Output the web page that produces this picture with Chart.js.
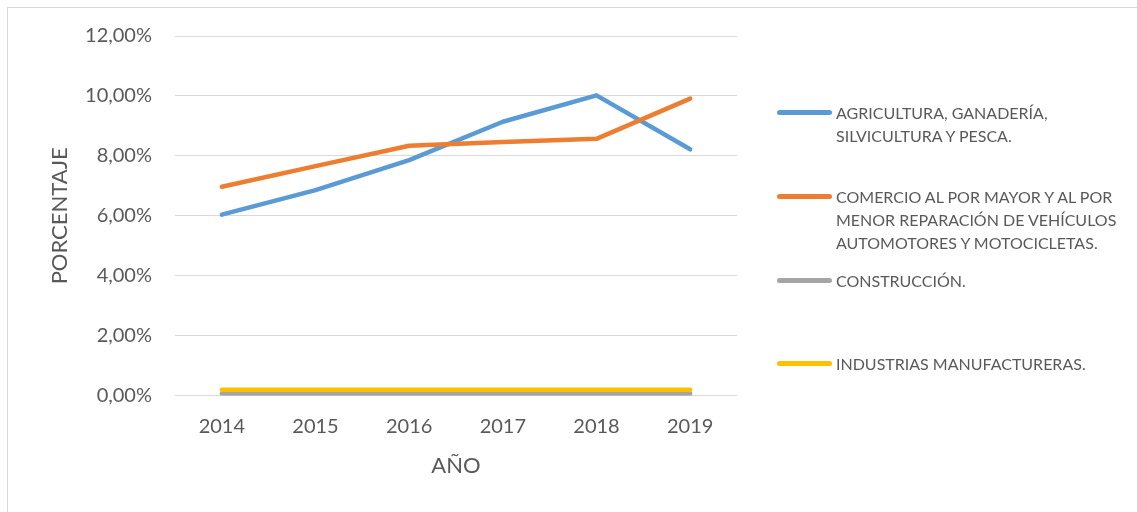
<!DOCTYPE html>
<html>
<head>
<meta charset="utf-8">
<script src="https://cdn.jsdelivr.net/npm/chart.js@4/dist/chart.umd.min.js"></script>
<style>
  html, body { margin: 0; padding: 0; background: #ffffff; }
  #wrap { position: relative; width: 1137px; height: 512px; overflow: hidden; }
  #frame { position: absolute; left: 7px; top: 7px; width: 1140px; height: 520px; border: 1px solid #d9d9d9; box-sizing: border-box; }
  canvas { position: absolute; left: 0; top: 0; }
  #legend { position: absolute; left: 0; top: 0; font-family: Lato, "Open Sans", sans-serif; font-size: 16px; color: #595959; }
  .item { position: absolute; left: 777px; }
  .mark { position: absolute; left: 0; width: 55px; height: 5px; border-radius: 3px; }
  .txt { position: absolute; left: 59px; white-space: pre; line-height: 23px; }
</style>
</head>
<body>
<div id="wrap">
  <div id="frame"></div>
  <canvas id="c" width="1137" height="512"></canvas>
  <div id="legend"></div>
</div>
<script>
const years = ['2014', '2015', '2016', '2017', '2018', '2019'];
const seriesNames = [
  'AGRICULTURA, GANADERÍA,\nSILVICULTURA Y PESCA.',
  'COMERCIO AL POR MAYOR Y AL POR\nMENOR REPARACIÓN DE VEHÍCULOS\nAUTOMOTORES Y MOTOCICLETAS.',
  'CONSTRUCCIÓN.',
  'INDUSTRIAS MANUFACTURERAS.'
];
const agricultura = [6.04, 6.86, 7.86, 9.14, 10.02, 8.22];
const comercio = [6.97, 7.66, 8.34, 8.46, 8.57, 9.91];
const construccion = [0.07, 0.07, 0.07, 0.07, 0.07, 0.07];
const industrias = [0.20, 0.20, 0.20, 0.20, 0.20, 0.20];
const seriesColors = ['#5B9BD5', '#ED7D31', '#A5A5A5', '#FFC000'];
const yMin = 0, yMax = 12, yStep = 2;
const xTitle = 'AÑO';
const yTitle = 'PORCENTAJE';

const seriesValues = [agricultura, comercio, construccion, industrias];
const textColor = '#595959';
const font = 'Lato, "Open Sans", sans-serif';

const datasets = seriesValues.map((vals, i) => ({
  label: seriesNames[i],
  data: vals,
  borderColor: seriesColors[i],
  backgroundColor: seriesColors[i],
  borderWidth: 4.5,
  borderCapStyle: 'round',
  borderJoinStyle: 'round',
  pointRadius: 0,
  pointHoverRadius: 0,
  tension: 0,
  fill: false,
  order: seriesValues.length - i
}));

new Chart(document.getElementById('c'), {
  type: 'line',
  data: { labels: years, datasets },
  options: {
    responsive: false,
    animation: false,
    events: [],
    layout: { padding: { left: 0, top: 36, right: 400, bottom: 0 } },
    plugins: { legend: { display: false }, tooltip: { enabled: false } },
    scales: {
      x: {
        offset: true,
        grid: { display: false, drawTicks: false },
        border: { display: false },
        ticks: { color: textColor, font: { family: font, size: 20 }, padding: 19 },
        title: { display: true, text: xTitle, color: textColor, font: { family: font, size: 22 }, padding: { top: 0, bottom: 33 } },
        afterFit: (s) => { s.height = 116.3; }
      },
      y: {
        min: yMin, max: yMax,
        ticks: {
          stepSize: yStep,
          color: textColor,
          font: { family: font, size: 20 },
          padding: 23,
          callback: (v) => v.toFixed(2).replace('.', ',') + '%'
        },
        grid: { color: '#d9d9d9', lineWidth: 1, drawTicks: false },
        border: { display: false },
        title: { display: true, text: yTitle, color: textColor, font: { family: font, size: 22 }, padding: { top: 47, bottom: 0 } },
        afterFit: (s) => { s.width = 175; }
      }
    }
  }
});

// HTML legend
const legendTops = [112, 196, 280, 363];
const legend = document.getElementById('legend');
seriesNames.forEach((name, i) => {
  const item = document.createElement('div');
  item.className = 'item';
  item.style.top = legendTops[i] + 'px';
  const mark = document.createElement('div');
  mark.className = 'mark';
  mark.style.background = seriesColors[i];
  mark.style.top = '-2.5px';
  const txt = document.createElement('div');
  txt.className = 'txt';
  txt.style.top = '-11.5px';
  txt.textContent = name;
  item.appendChild(mark);
  item.appendChild(txt);
  legend.appendChild(item);
});
</script>
</body>
</html>
